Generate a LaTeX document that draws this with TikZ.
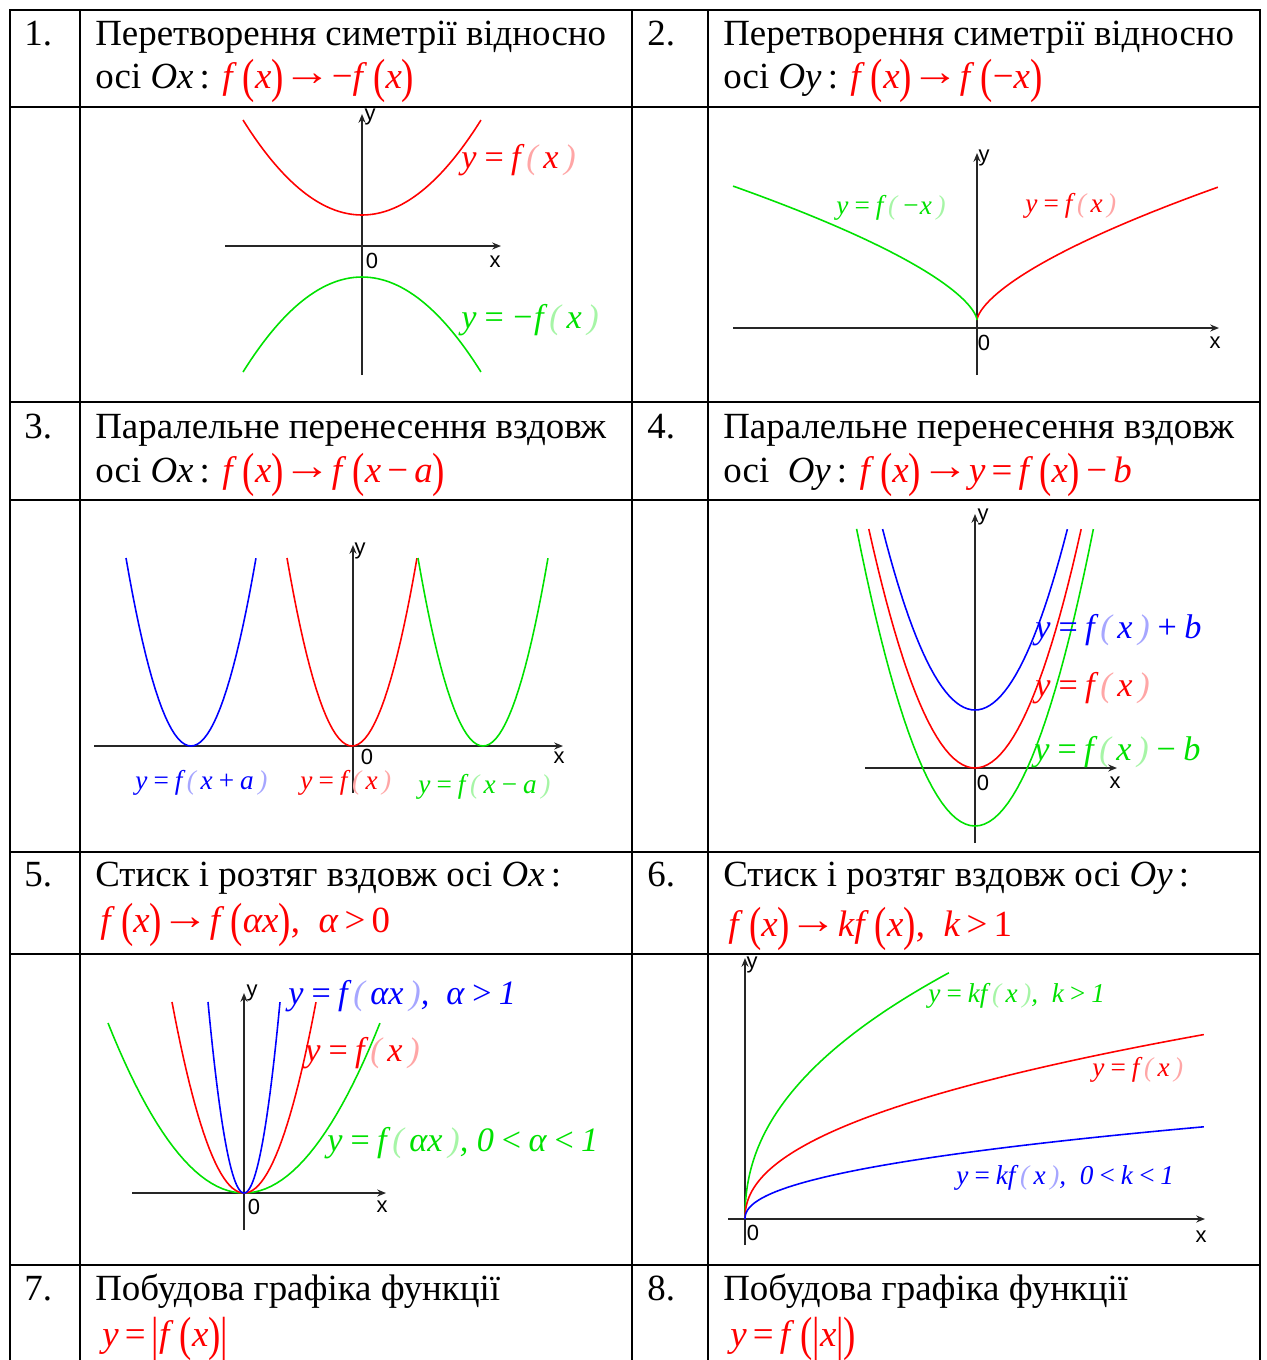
\documentclass[tikz,border=0pt]{standalone}
\usepackage{fontspec}
\usepackage{graphicx}
\setmainfont{Liberation Serif}
\newfontfamily\axisfont{Liberation Sans}
\usetikzlibrary{arrows.meta}
\definecolor{plotred}{RGB}{255,0,0}
\definecolor{plotgreen}{RGB}{0,225,0}
\definecolor{plotblue}{RGB}{0,0,255}
\newcommand\headfont{\fontsize{21}{25}\selectfont}
\newcommand\lblfont{\fontsize{15.5}{18}\selectfont\itshape}
\newcommand\lblbigfont{\fontsize{19.5}{22}\selectfont\itshape}
\newcommand\axfont{\axisfont\fontsize{12.5}{12.5}\selectfont}
% tall brackets of the formulas, faded brackets of the plot labels
\newcommand\lb{\raisebox{-0.12em}{\scalebox{1}[1.3]{(}}}
\newcommand\rb{\raisebox{-0.12em}{\scalebox{1}[1.3]{)}}}
\newcommand\vb{\raisebox{-0.12em}{\scalebox{1}[1.3]{|}}}
\newcommand\vi[1]{\textit{#1}}
\newcommand\toarr{\raisebox{0.06em}{\scalebox{1.3}[1.1]{→}}}
\newcommand\lp{\,{\color{.!35}(}\,}
\newcommand\rp{\,{\color{.!35})}}

\begin{document}
\begin{tikzpicture}[x=0.02cm,y=-0.02cm,
  grid/.style={line width=1.2pt,line cap=rect},
  axis/.style={line width=0.9pt,black!85,-{Stealth[length=5pt,width=4pt]}},
  curve/.style={line width=0.9pt},
  headtxt/.style={anchor=base west,inner sep=0pt,font=\headfont},
  lbl/.style={anchor=west,inner sep=0pt,font=\lblfont},
  lblbig/.style={anchor=west,inner sep=0pt,font=\lblbigfont},
  axl/.style={inner sep=0pt,font=\axfont}]
  \useasboundingbox (0,0) rectangle (1267,1360);
  % table
  \draw[grid] (10,1360) -- (10,10) -- (1260,10) -- (1260,1360);
  \foreach \cx in {80,632,708} \draw[grid] (\cx,10) -- (\cx,1360);
  \foreach \ry in {107,402,500,852,954,1265} \draw[grid] (10,\ry) -- (1260,\ry);
  % headers
  \node[headtxt] (n1) at (24,45) {1.};
  \node[headtxt] (h1a) at (95,45) {Перетворення симетрії відносно};
  \node[headtxt] (h1b) at (95,88) {осі \vi{Ox}\,: {\color{plotred}\vi{f}\,\lb\vi{x}\rb\toarr−\vi{f}\,\lb\vi{x}\rb}};
  \node[headtxt] (n2) at (647,45) {2.};
  \node[headtxt] (h2a) at (723,45) {Перетворення симетрії відносно};
  \node[headtxt] (h2b) at (723,88) {осі \vi{Oy}\,: {\color{plotred}\vi{f}\,\lb\vi{x}\rb\toarr\vi{f}\,\lb−\vi{x}\rb}};
  \node[headtxt] (n3) at (24,438) {3.};
  \node[headtxt] (h3a) at (95,438) {Паралельне перенесення вздовж};
  \node[headtxt] (h3b) at (95,482) {осі \vi{Ox}\,: {\color{plotred}\vi{f}\,\lb\vi{x}\rb\toarr\vi{f}\,\lb\vi{x}\,−\,\vi{a}\rb}};
  \node[headtxt] (n4) at (647,438) {4.};
  \node[headtxt] (h4a) at (723,438) {Паралельне перенесення вздовж};
  \node[headtxt] (h4b) at (723,482) {осі \ \vi{Oy}\,: {\color{plotred}\vi{f}\,\lb\vi{x}\rb\toarr\vi{y}\,=\,\vi{f}\,\lb\vi{x}\rb\,−\,\vi{b}}};
  \node[headtxt] (n5) at (24,886) {5.};
  \node[headtxt] (h5a) at (95,886) {Стиск і розтяг вздовж осі \vi{Ox}\,:};
  \node[headtxt] (h5b) at (100,932) {\color{plotred}\vi{f}\,\lb\vi{x}\rb\toarr\vi{f}\,\lb\vi{αx}\rb,\ \ \vi{α}\,>\,0};
  \node[headtxt] (n6) at (647,886) {6.};
  \node[headtxt] (h6a) at (723,886) {Стиск і розтяг вздовж осі \vi{Oy}\,:};
  \node[headtxt] (h6b) at (728,936) {\color{plotred}\vi{f}\,\lb\vi{x}\rb\toarr\vi{kf}\,\lb\vi{x}\rb,\ \ \vi{k}\,>\,1};
  \node[headtxt] (n7) at (24,1300) {7.};
  \node[headtxt] (h7a) at (95,1300) {Побудова графіка функції};
  \node[headtxt] (h7b) at (102,1346) {\color{plotred}\vi{y}\,=\,\vb\vi{f}\,\lb\vi{x}\rb\vb};
  \node[headtxt] (n8) at (647,1300) {8.};
  \node[headtxt] (h8a) at (723,1300) {Побудова графіка функції};
  \node[headtxt] (h8b) at (730,1346) {\color{plotred}\vi{y}\,=\,\vi{f}\,\lb\vb\vi{x}\vb\rb};
  % graph 1
  \draw[axis] (225,246) -- (501,246);
  \draw[axis] (362,375) -- (362,114);
  \draw[curve,plotred] plot[domain=-1:1,samples=61] ({362+119*\x},{215-95*\x*\x});
  \draw[curve,plotgreen] plot[domain=-1:1,samples=61] ({362+119*\x},{277+95*\x*\x});
  \node[lblbig,text=plotred] (g1f) at (461,160) {y\,=\,f\lp x\rp};
  \node[lblbig,text=plotgreen] (g1m) at (461,320) {y\,=\,−f\lp x\rp};
  \node[axl] (g1o) at (372,261) {0};
  \node[axl] (g1x) at (495,262) {x};
  \node[axl] (g1y) at (370,117) {y};
  % graph 2
  \draw[axis] (733,328) -- (1219,328);
  \draw[axis] (977,375) -- (977,153);
  \draw[curve,plotred] plot[domain=0.01:15.52,samples=80] ({977+\x*\x},{320-3.76*pow(\x,1.3)});
  \draw[curve,plotgreen] plot[domain=0.01:15.62,samples=80] ({977-\x*\x},{320-3.76*pow(\x,1.3)});
  \node[lbl,text=plotgreen] (g2m) at (836,208) {y\,=\,f\lp −x\rp};
  \node[lbl,text=plotred] (g2f) at (1025,206) {y\,=\,f\lp x\rp};
  \node[axl] (g2o) at (984,343) {0};
  \node[axl] (g2x) at (1215,343) {x};
  \node[axl] (g2y) at (984,158) {y};
  % graph 3
  \draw[axis] (94,746) -- (563,746);
  \draw[axis] (353,793) -- (353,545);
  \foreach \c/\col in {191/plotblue,352/plotred,483/plotgreen}
    \draw[curve,\col] plot[domain=-1:1,samples=41] ({\c+65*\x},{746-188*\x*\x});
  \node[lbl,text=plotblue] (g3p) at (135,783) {y\,=\,f\lp x\,+\,a\rp};
  \node[lbl,text=plotred] (g3f) at (300,783) {y\,=\,f\lp x\rp};
  \node[lbl,text=plotgreen] (g3m) at (418,787) {y\,=\,f\lp x\,−\,a\rp};
  \node[axl] (g3o) at (367,757) {0};
  \node[axl] (g3x) at (559,758) {x};
  \node[axl] (g3y) at (360,551) {y};
  % graph 4
  \draw[axis] (865,768) -- (1117,768);
  \draw[axis] (975,843) -- (975,514);
  \foreach \vy/\hw/\col in {710/92.4/plotblue,768/106.2/plotred,826/118.4/plotgreen}
    \draw[curve,\col] plot[domain=-1:1,samples=51] ({975+\hw*\x},{\vy-0.0212*\hw*\hw*\x*\x});
  \node[lblbig,text=plotblue] (g4p) at (1035,630) {y\,=\,f\lp x\rp\,+\,b};
  \node[lblbig,text=plotred] (g4f) at (1035,688) {y\,=\,f\lp x\rp};
  \node[lblbig,text=plotgreen] (g4m) at (1034,752) {y\,=\,f\lp x\rp\,−\,b};
  \node[axl] (g4o) at (983,783) {0};
  \node[axl] (g4x) at (1115,783) {x};
  \node[axl] (g4y) at (983,517) {y};
  % graph 5
  \draw[axis] (132,1193) -- (386,1193);
  \draw[axis] (244,1230) -- (244,993);
  \foreach \hh/\hw/\col in {170/136/plotgreen,191/72/plotred,191/36/plotblue}
    \draw[curve,\col] plot[domain=-1:1,samples=51] ({244+\hw*\x},{1193-\hh*\x*\x});
  \node[lblbig,text=plotblue] (g5b) at (288,996) {y\,=\,f\lp αx\rp,\ \ α\,>\,1};
  \node[lblbig,text=plotred] (g5f) at (305,1053) {y\,=\,f\lp x\rp};
  \node[lblbig,text=plotgreen] (g5s) at (327,1143) {y\,=\,f\lp αx\rp,\ 0\,<\,α\,<\,1};
  \node[axl] (g5o) at (254,1207) {0};
  \node[axl] (g5x) at (382,1207) {x};
  \node[axl] (g5y) at (252,993) {y};
  % graph 6
  \draw[axis] (728,1219) -- (1205,1219);
  \draw[axis] (745,1245) -- (745,958);
  \foreach \cc/\tt/\col in {22.5/14.28/plotgreen,11.7/21.42/plotred,5.85/21.42/plotblue}
    \draw[curve,\col] plot[domain=0.01:\tt,samples=80] ({745+\x*\x},{1219-\cc*pow(\x,0.9)});
  \node[lbl,text=plotgreen] (g6g) at (928,996) {y\,=\,kf\lp x\rp,\ \ k\,>\,1};
  \node[lbl,text=plotred] (g6f) at (1092,1070) {y\,=\,f\lp x\rp};
  \node[lbl,text=plotblue] (g6s) at (956,1178) {y\,=\,kf\lp x\rp,\ \ 0\,<\,k\,<\,1};
  \node[axl] (g6o) at (753,1233) {0};
  \node[axl] (g6x) at (1201,1237) {x};
  \node[axl] (g6y) at (752,965) {y};
\end{tikzpicture}
\end{document}
